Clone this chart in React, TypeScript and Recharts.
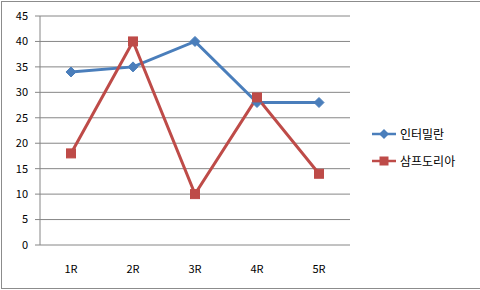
import { LineChart, Line, XAxis, YAxis, CartesianGrid } from 'recharts';

const rounds = ['1R', '2R', '3R', '4R', '5R'];
const interValues = [34, 35, 40, 28, 28];
const sampValues = [18, 40, 10, 29, 14];
const yTicks = [0, 5, 10, 15, 20, 25, 30, 35, 40, 45];
const edgeTicks = [0, 1, 2, 3, 4, 5];

const BLUE = '#4a7ebb';
const RED = '#be4b48';
const GRID = '#868686';
const FONT = '"Noto Sans CJK KR", "DejaVu Sans", sans-serif';

const data = rounds.map((r, i) => ({ round: r, inter: interValues[i], samp: sampValues[i] }));

function Diamond(props: any) {
  const { cx, cy } = props;
  if (cx == null || cy == null) return null;
  const s = 5;
  return (
    <polygon
      points={`${cx},${cy - s} ${cx + s},${cy} ${cx},${cy + s} ${cx - s},${cy}`}
      fill={BLUE}
      stroke={BLUE}
    />
  );
}

function Square(props: any) {
  const { cx, cy } = props;
  if (cx == null || cy == null) return null;
  const s = 4.5;
  return <rect x={cx - s} y={cy - s} width={s * 2} height={s * 2} fill={RED} stroke={RED} />;
}

function LegendBox() {
  const items = [
    { name: '인터밀란', color: BLUE, shape: 'diamond' },
    { name: '삼프도리아', color: RED, shape: 'square' },
  ];
  return (
    <div style={{ position: 'absolute', left: 371, top: 120, fontFamily: FONT, fontSize: 12, color: '#000' }}>
      {items.map((it) => (
        <div key={it.name} style={{ display: 'flex', alignItems: 'center', height: 27 }}>
          <svg width={26} height={12} style={{ marginRight: 3 }}>
            <line x1={1} y1={6} x2={25} y2={6} stroke={it.color} strokeWidth={2.5} />
            {it.shape === 'diamond' ? (
              <polygon points="13,1 18,6 13,11 8,6" fill={it.color} />
            ) : (
              <rect x={8.5} y={1.5} width={9} height={9} fill={it.color} />
            )}
          </svg>
          <span>{it.name}</span>
        </div>
      ))}
    </div>
  );
}

export default function App() {
  return (
    <div style={{ position: 'absolute', left: 0, top: 0, width: 480, height: 290, background: '#fff' }}>
      <div
        style={{
          position: 'absolute',
          left: 1,
          top: 1,
          width: 480,
          height: 286,
          border: '1px solid #8c8c8c',
        }}
      />
      <LineChart
        width={480}
        height={290}
        data={data}
        margin={{ top: 16, right: 130, left: 0, bottom: 15 }}
        style={{ position: 'absolute', left: 0, top: 0 }}
      >
        <CartesianGrid vertical={false} stroke={GRID} strokeWidth={1} />
        <XAxis
          xAxisId="edge"
          type="number"
          domain={[0, 5]}
          ticks={edgeTicks}
          tickFormatter={() => ''}
          height={0}
          tickSize={5}
          stroke={GRID}
          axisLine={{ stroke: GRID }}
        />
        <XAxis
          dataKey="round"
          scale="band"
          height={30}
          tickLine={false}
          axisLine={false}
          tickMargin={14}
          tick={{ fontSize: 11, fill: '#000', fontFamily: FONT }}
        />
        <YAxis
          width={40}
          domain={[0, 45]}
          ticks={yTicks}
          tickSize={5}
          tickMargin={7}
          stroke={GRID}
          tick={{ fontSize: 11, fill: '#000', fontFamily: FONT }}
        />
        <Line
          dataKey="inter"
          name="인터밀란"
          stroke={BLUE}
          strokeWidth={3}
          dot={<Diamond />}
          activeDot={false}
          isAnimationActive={false}
        />
        <Line
          dataKey="samp"
          name="삼프도리아"
          stroke={RED}
          strokeWidth={3}
          dot={<Square />}
          activeDot={false}
          isAnimationActive={false}
        />
      </LineChart>
      <LegendBox />
    </div>
  );
}
